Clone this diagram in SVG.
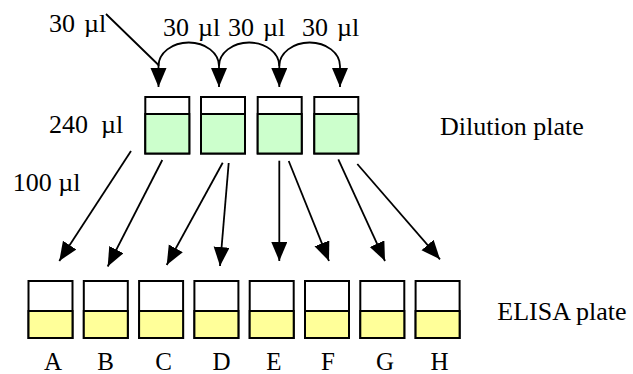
<svg xmlns="http://www.w3.org/2000/svg" width="633" height="374" viewBox="0 0 633 374">
<defs>
<style>
.lbl{font-family:'Liberation Serif','Times New Roman',serif;font-size:26px;fill:#000}
.ul{word-spacing:2.5px}
.let{font-family:'Liberation Serif','Times New Roman',serif;font-size:25px;fill:#000}
.well{fill:#fff;stroke:#000;stroke-width:2}
.dil{fill:#CCFFCC;stroke:#000;stroke-width:2}
.eli{fill:#FFFF99;stroke:#000;stroke-width:2}
.con{fill:none;stroke:#000;stroke-width:1.8;marker-end:url(#ah)}
</style>
<marker id="ah" markerUnits="userSpaceOnUse" markerWidth="21" markerHeight="17" refX="19" refY="8" orient="auto">
<path d="M0,0 L19,8 L0,16 z" fill="#000"/>
</marker>
</defs>
<rect width="633" height="374" fill="#fff"/>

<g id="dilution-plate">
<g id="d1"><rect class="well" x="145.3" y="97" width="44" height="56.5"/><rect class="dil" x="145.3" y="114" width="44" height="39.5"/></g>
<g id="d2"><rect class="well" x="201" y="97" width="44" height="56.5"/><rect class="dil" x="201" y="114" width="44" height="39.5"/></g>
<g id="d3"><rect class="well" x="257.7" y="97" width="44" height="56.5"/><rect class="dil" x="257.7" y="114" width="44" height="39.5"/></g>
<g id="d4"><rect class="well" x="314.3" y="97" width="44" height="56.5"/><rect class="dil" x="314.3" y="114" width="44" height="39.5"/></g>
</g>

<g id="elisa-plate">
<g id="wA"><rect class="well" x="28.5" y="281" width="44" height="57"/><rect class="eli" x="28.5" y="311" width="44" height="27"/></g>
<g id="wB"><rect class="well" x="83.8" y="281" width="44" height="57"/><rect class="eli" x="83.8" y="311" width="44" height="27"/></g>
<g id="wC"><rect class="well" x="139.1" y="281" width="44" height="57"/><rect class="eli" x="139.1" y="311" width="44" height="27"/></g>
<g id="wD"><rect class="well" x="194.4" y="281" width="44" height="57"/><rect class="eli" x="194.4" y="311" width="44" height="27"/></g>
<g id="wE"><rect class="well" x="249.7" y="281" width="44" height="57"/><rect class="eli" x="249.7" y="311" width="44" height="27"/></g>
<g id="wF"><rect class="well" x="305" y="281" width="44" height="57"/><rect class="eli" x="305" y="311" width="44" height="27"/></g>
<g id="wG"><rect class="well" x="360.3" y="281" width="44" height="57"/><rect class="eli" x="360.3" y="311" width="44" height="27"/></g>
<g id="wH"><rect class="well" x="415.6" y="281" width="44" height="57"/><rect class="eli" x="415.6" y="311" width="44" height="27"/></g>
</g>

<g id="connectors">
<path class="con" d="M106,14 L158.5,65 L158.5,87"/>
<path class="con" d="M158.5,66 A30.25,23.5 0 0 1 219,66 L219,87"/>
<path class="con" d="M219,66 A30.15,23.5 0 0 1 279.3,66 L279.3,87"/>
<path class="con" d="M279.3,66 A30.35,23.5 0 0 1 340,66 L340,87"/>
<path class="con" d="M131,151 L59.3,261"/>
<path class="con" d="M162.3,160 L107.7,266.5"/>
<path class="con" d="M222.7,162.7 L166.7,265"/>
<path class="con" d="M228.7,163 L220,266"/>
<path class="con" d="M279.3,160.7 L279.3,261"/>
<path class="con" d="M288.7,161 L329,261"/>
<path class="con" d="M338.3,159.3 L385,261"/>
<path class="con" d="M357.3,164 L440,259.3"/>
</g>

<g id="labels">
<text class="lbl ul" x="49" y="32">30 µl</text>
<text class="lbl ul" x="163" y="36">30 µl</text>
<text class="lbl ul" x="228" y="36">30 µl</text>
<text class="lbl ul" x="302" y="36">30 µl</text>
<text class="lbl" x="49" y="133" xml:space="preserve">240  µl</text>
<text class="lbl" x="12.7" y="190.7">100 µl</text>
<text class="lbl" x="440" y="135">Dilution plate</text>
<text class="lbl" x="497.3" y="320">ELISA plate</text>
<g text-anchor="middle">
<text class="let" x="53" y="369.5">A</text>
<text class="let" x="105.5" y="369.5">B</text>
<text class="let" x="163.5" y="369.5">C</text>
<text class="let" x="221.5" y="369.5">D</text>
<text class="let" x="274" y="369.5">E</text>
<text class="let" x="328" y="369.5">F</text>
<text class="let" x="385" y="369.5">G</text>
<text class="let" x="439.5" y="369.5">H</text>
</g>
</g>
</svg>
